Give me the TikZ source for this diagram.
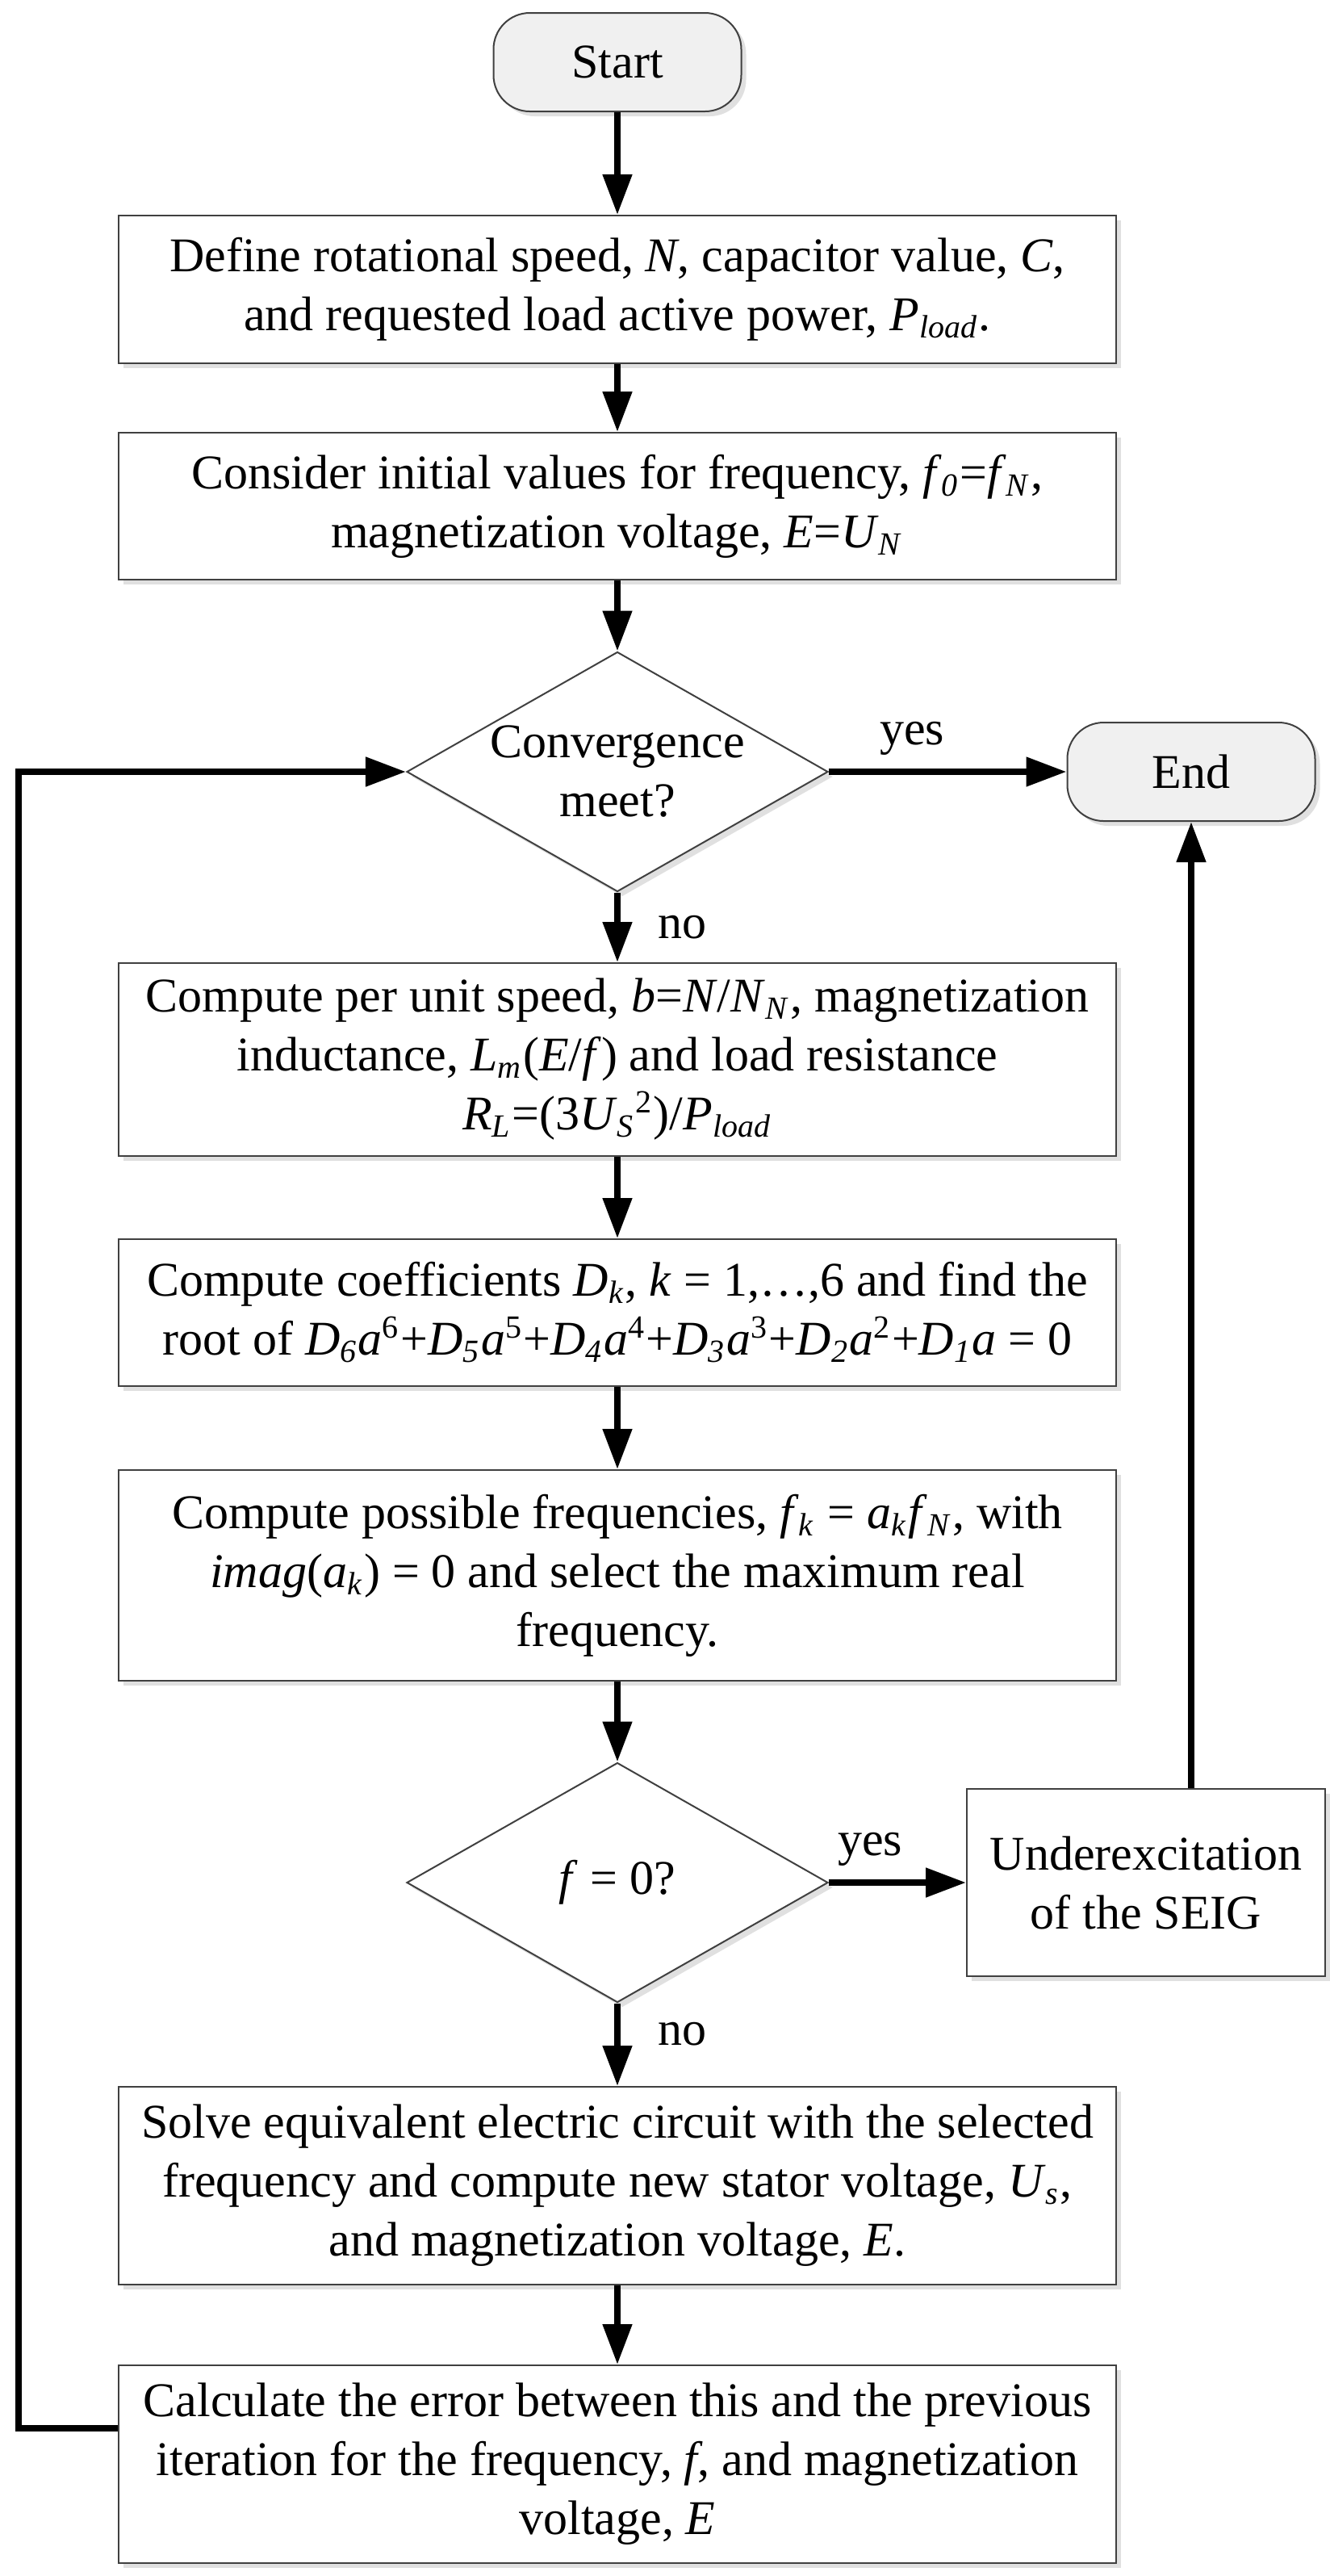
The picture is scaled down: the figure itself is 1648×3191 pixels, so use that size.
\documentclass[tikz,border=0pt]{standalone}
\usepackage{fontspec}
\setmainfont{Liberation Serif}
\usetikzlibrary{shapes.geometric,arrows.meta,shadows}

\newcommand{\mvar}[1]{\textit{#1}}
\newcommand{\msub}[2]{\textit{#1}\textsubscript{\textit{#2}}}

\begin{document}
\begin{tikzpicture}[x=0.2pt,y=-0.2pt,
    font=\fontsize{12}{14.6}\selectfont,
    box/.style={draw=black!75,fill=white,line width=.4pt,align=center,inner sep=2pt,
      minimum width=247.2pt,
      drop shadow={shadow xshift=1.2pt,shadow yshift=-1.2pt,fill=black!12,opacity=1}},
    term/.style={box,rounded corners=9pt,fill=black!6,minimum width=61.4pt,minimum height=24.4pt},
    test/.style={box,diamond,shape aspect=1.76,minimum width=104.4pt,minimum height=59.4pt,inner sep=-4pt},
    flow/.style={line width=1.6pt,-{Triangle[length=10pt,width=7pt]}}]
  \useasboundingbox (0,0) rectangle (1648,3191);

  \node[term] (start) at (765,77) {Start};
  \node[box,minimum height=36.6pt] (define) at (765,358.5)
    {Define rotational speed, \mvar{N}, capacitor value, \mvar{C},\\
     and requested load active power, \msub{P}{load}.};
  \node[box,minimum height=36.4pt] (init) at (765,627)
    {Consider initial values for frequency, \msub{f}{0}=\msub{f}{N},\\
     magnetization voltage, \mvar{E}=\msub{U}{N}};
  \node[test] (conv) at (765,956) {Convergence\\ meet?};
  \node[term] (endn) at (1476,956) {End};
  \node[box,minimum height=47.8pt] (speed) at (765,1312.5)
    {Compute per unit speed, \mvar{b}=\mvar{N}/\msub{N}{N}, magnetization\\
     inductance, \msub{L}{m}(\mvar{E}/\mvar{f}) and load resistance\\
     \msub{R}{L}=(3\msub{U}{S}\textsuperscript{2})/\msub{P}{load}};
  \node[box,minimum height=36.4pt] (coef) at (765,1626)
    {Compute coefficients \msub{D}{k}, \mvar{k} = 1,…,6 and find the\\
     root of \msub{D}{6}\mvar{a}\textsuperscript{6}+\msub{D}{5}\mvar{a}\textsuperscript{5}+\msub{D}{4}\mvar{a}\textsuperscript{4}+\msub{D}{3}\mvar{a}\textsuperscript{3}+\msub{D}{2}\mvar{a}\textsuperscript{2}+\msub{D}{1}\mvar{a} = 0};
  \node[box,minimum height=52.2pt] (freq) at (765,1951.5)
    {Compute possible frequencies, \msub{f}{k} = \msub{a}{k}\msub{f}{N}, with\\
     \mvar{imag}(\msub{a}{k}) = 0 and select the maximum real\\
     frequency.};
  \node[test] (fzero) at (765,2332) {\mvar{f} = 0?};
  \node[box,minimum width=88.8pt,minimum height=46.4pt] (under) at (1420,2332)
    {Underexcitation\\ of the SEIG};
  \node[box,minimum height=49pt] (solve) at (765,2707.5)
    {Solve equivalent electric circuit with the selected\\
     frequency and compute new stator voltage, \msub{U}{s},\\
     and magnetization voltage, \mvar{E}.};
  \node[box,minimum height=49pt] (calc) at (765,3052.5)
    {Calculate the error between this and the previous\\
     iteration for the frequency, \mvar{f}, and magnetization\\
     voltage, \mvar{E}};

  \draw[flow] (start) -- (define);
  \draw[flow] (define) -- (init);
  \draw[flow] (init) -- (conv);
  \draw[flow] (conv) -- node[above,pos=.35] {yes} (endn);
  \draw[flow] (conv) -- node[right=6pt,pos=.5] {no} (speed);
  \draw[flow] (speed) -- (coef);
  \draw[flow] (coef) -- (freq);
  \draw[flow] (freq) -- (fzero);
  \draw[flow] (fzero) -- node[above,pos=.3] {yes} (under);
  \draw[flow] (under.north -| endn) -- (endn);
  \draw[flow] (fzero) -- node[right=6pt,pos=.37] {no} (solve);
  \draw[flow] (solve) -- (calc);

  %% back to the test
  \coordinate (back) at (23,3008);
  \draw[flow] (calc.west |- back) -- (back) |- (conv.west);
\end{tikzpicture}
\end{document}
